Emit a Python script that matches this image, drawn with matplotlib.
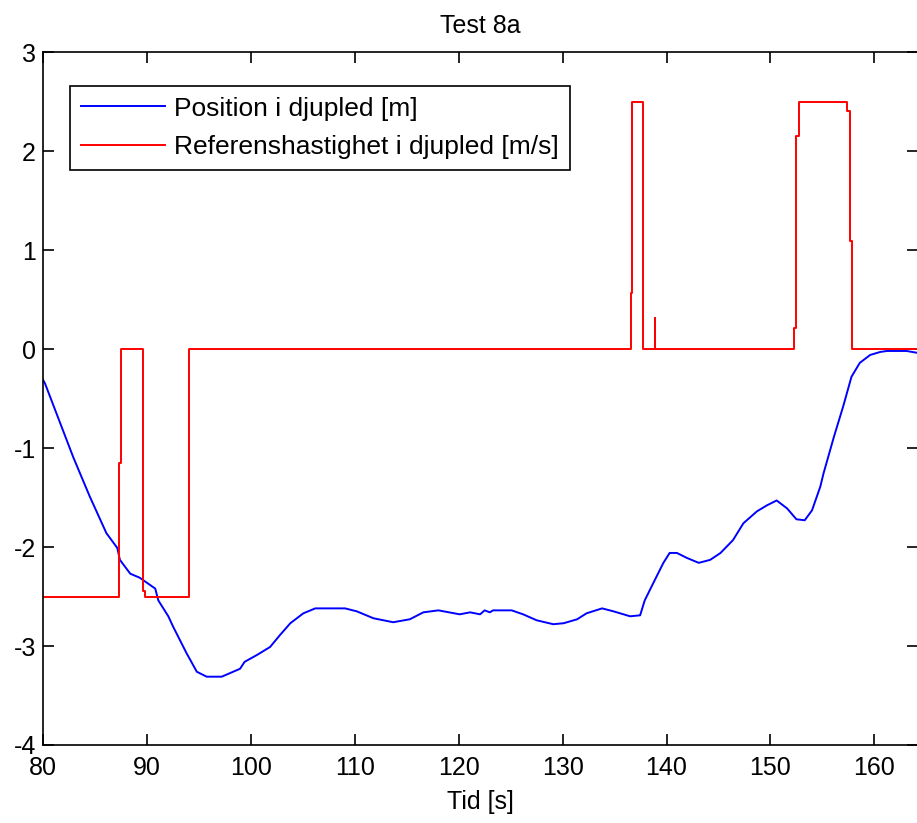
import matplotlib
matplotlib.use("Agg")
import matplotlib.pyplot as plt

plt.rcParams['font.family'] = ['Liberation Sans', 'DejaVu Sans']
plt.rcParams['axes.unicode_minus'] = False

title = "Test 8a"
xlabel = "Tid [s]"
label_pos = "Position i djupled [m]"
label_ref = "Referenshastighet i djupled [m/s]"

t_pos = [80.0, 80.2, 82.9, 84.5, 86.1, 87.15, 87.4, 88.4, 89.3, 90.8, 91.1, 92.06, 92.5, 93.8,
         94.8, 95.75, 97.2, 98.96, 99.4, 100.6, 101.85, 102.8, 103.8, 105.05, 106.2, 109.07,
         110.2, 111.8, 113.7, 115.3, 116.6, 118.05, 120.1, 121.1, 122.06, 122.5, 123.0, 123.3,
         125.1, 126.2, 127.5, 129.1, 130.1, 131.4, 132.3, 133.8, 134.9, 136.5, 137.46, 137.9,
         138.7, 139.7, 140.3, 141.0, 141.95, 143.1, 144.2, 145.2, 146.4, 147.4, 148.7, 149.65,
         150.6, 151.6, 152.5, 153.3, 154.0, 154.8, 155.1, 156.1, 157.0, 157.8, 158.6, 159.6,
         160.56, 161.2, 163.1, 164.2]
y_pos = [-0.31, -0.35, -1.09, -1.49, -1.86, -2.01, -2.13, -2.27, -2.31, -2.42, -2.54, -2.70,
         -2.80, -3.07, -3.26, -3.31, -3.31, -3.23, -3.16, -3.09, -3.01, -2.89, -2.77, -2.67,
         -2.62, -2.62, -2.65, -2.72, -2.76, -2.73, -2.66, -2.64, -2.68, -2.66, -2.68, -2.64,
         -2.66, -2.64, -2.64, -2.68, -2.74, -2.78, -2.77, -2.73, -2.67, -2.62, -2.65, -2.70,
         -2.69, -2.54, -2.37, -2.16, -2.06, -2.06, -2.11, -2.16, -2.13, -2.06, -1.93, -1.76,
         -1.64, -1.58, -1.53, -1.61, -1.72, -1.73, -1.63, -1.39, -1.26, -0.89, -0.58, -0.28,
         -0.14, -0.06, -0.03, -0.02, -0.02, -0.04]

t_ref = [80.0, 87.31, 87.31, 87.47, 87.47, 89.6, 89.6, 89.78, 89.78, 94.08, 94.08,
         136.6, 136.6, 136.72, 136.72, 137.72, 137.72, 138.9, 138.9, 138.9,
         152.3, 152.3, 152.5, 152.5, 152.76, 152.76, 157.4, 157.4, 157.67, 157.67,
         157.83, 157.83, 164.2]
v_ref = [-2.5, -2.5, -1.15, -1.15, 0.0, 0.0, -2.44, -2.44, -2.5, -2.5, 0.0,
         0.0, 0.57, 0.57, 2.5, 2.5, 0.0, 0.0, 0.31, 0.0,
         0.0, 0.21, 0.21, 2.15, 2.15, 2.5, 2.5, 2.40, 2.40, 1.09,
         1.09, 0.0, 0.0]

xticks = [80, 90, 100, 110, 120, 130, 140, 150, 160]
yticks = [-4, -3, -2, -1, 0, 1, 2, 3]

fig = plt.figure(figsize=(9.17, 8.23), dpi=100)
ax = fig.add_axes([43/917, 1 - 745/823, 875/917, 693/823])

ax.plot(t_pos, y_pos, color='#0000ff', lw=1.4, label=label_pos)
ax.plot(t_ref, v_ref, color='#ff0000', lw=1.4, label=label_ref)

ax.set_xlim(80, 164.2)
ax.set_ylim(-4, 3)
ax.set_xticks(xticks)
ax.set_yticks(yticks)
ax.tick_params(direction='in', top=True, right=True, length=8, width=1.2,
               labelsize=18, pad=5)
ax.tick_params(axis='x', pad=8)
for s in ax.spines.values():
    s.set_linewidth(1.2)
ax.set_title(title, fontsize=18, pad=14)
ax.set_xlabel(xlabel, fontsize=18, labelpad=7)

leg = ax.legend(loc='upper left', bbox_to_anchor=(27/875, (745-86)/693),
                borderaxespad=0, fancybox=False, edgecolor='black', framealpha=1,
                fontsize=19, handlelength=3.2, handletextpad=0.35, borderpad=0.4,
                labelspacing=0.55)
leg.get_frame().set_linewidth(1.2)

fig.savefig("out.png", dpi=100)
